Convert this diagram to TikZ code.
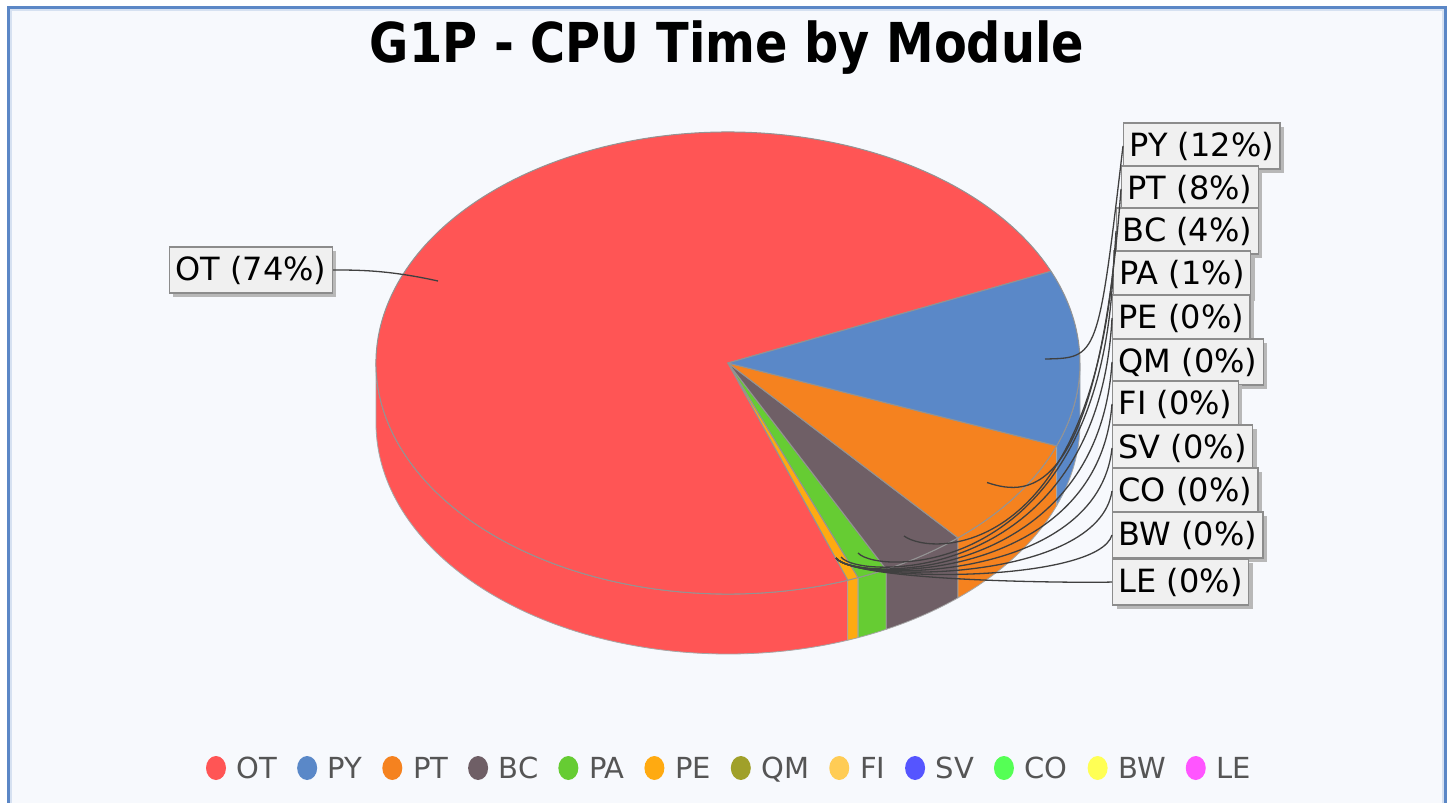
\documentclass[tikz,border=0pt]{standalone}
\usepackage{fontspec}
\setmainfont{DejaVu Sans}
\usetikzlibrary{positioning,shapes.geometric,shadows}

\definecolor{frameblue}{HTML}{5B87C6}
\definecolor{chartbg}{HTML}{F7F9FD}
\definecolor{colOT}{HTML}{FF5555}
\definecolor{colPY}{HTML}{5A88C8}
\definecolor{colPT}{HTML}{F5821F}
\definecolor{colBC}{HTML}{6F5F66}
\definecolor{colPA}{HTML}{66CC33}
\definecolor{colPE}{HTML}{FFAA11}
\definecolor{colQM}{HTML}{A0A02A}
\definecolor{colFI}{HTML}{FFCC55}
\definecolor{colSV}{HTML}{5555FF}
\definecolor{colCO}{HTML}{55FF55}
\definecolor{colBW}{HTML}{FFFF55}
\definecolor{colLE}{HTML}{FF55FF}
\definecolor{lblfill}{HTML}{F0F0F0}
\definecolor{legtext}{HTML}{555555}

\newcommand\lblfont{\fontsize{16pt}{18pt}\selectfont}
\newcommand\legfont{\fontsize{14.5pt}{16pt}\selectfont}
\newcommand\ttlfont{\fontsize{27.5pt}{30pt}\selectfont\bfseries}

\begin{document}
\begin{tikzpicture}[x=0.5pt,y=0.5pt,
  slice/.style={draw=gray!85, line width=0.5pt, line join=round},
  sideface/.style={draw=gray!70, line width=0.4pt, line join=round},
  lbl/.style={draw=gray!90, fill=lblfill, font=\lblfont, text=black, line width=0.6pt,
    inner xsep=3pt, inner ysep=0pt, minimum height=23pt, anchor=west,
    drop shadow={shadow xshift=2pt, shadow yshift=-2pt, fill=black!28, opacity=1}},
  link/.style={draw=black!75, line width=0.65pt},
  dot/.style={ellipse, minimum width=10pt, minimum height=12pt, inner sep=0pt},
  legtxt/.style={font=\legfont, text=legtext, inner sep=0pt, text height=10.5pt, text depth=0pt}]

	\useasboundingbox (0,0) rectangle (1448,-803);
	\fill[white] (0,0) rectangle (1448,-803);
	\filldraw[fill=chartbg, draw=frameblue, line width=1.5pt] (8.5,-7.5) rectangle (1445.5,-830);
	\draw[frameblue!25, line width=1pt] (11,-10) rectangle (1443,-830);

	\node[font=\ttlfont, anchor=base] (title) at (727,-62) {\scalebox{0.87}[1]{G1P - CPU Time by Module}};

	% pie
	\coordinate (c) at (728,-363);
	\foreach \a/\b/\col in {180/289.9/colOT, 289.9/291.7/colPE, 291.7/296.7/colPA, 296.7/310.8/colBC, 310.8/339/colPT, 339/360/colPY}
		\filldraw[sideface, fill=\col] (c) ++(\a:352 and 231) arc[start angle=\a, end angle=\b, x radius=352, y radius=231] -- ++(0,-60) arc[start angle=\b, end angle=\a, x radius=352, y radius=231] -- cycle;
	\foreach \a/\b/\col in {23.4/289.9/colOT, 289.9/291.7/colPE, 291.7/296.7/colPA, 296.7/310.8/colBC, 310.8/339/colPT, 339/383.4/colPY}
		\filldraw[slice, fill=\col] (c) -- ++(\a:352 and 231) arc[start angle=\a, end angle=\b, x radius=352, y radius=231] -- cycle;

	% labels
	\node[lbl, anchor=east] (OT) at (333,-270) {OT (74\%)};
	\node[lbl] (PY) at (1123,-146) {PY (12\%)};
	\node[lbl] (PT) at (1121,-189) {PT (8\%)};
	\node[lbl] (BC) at (1116,-231) {BC (4\%)};
	\node[lbl] (PA) at (1113,-274) {PA (1\%)};
	\node[lbl] (PE) at (1112,-318) {PE (0\%)};
	\node[lbl] (QM) at (1112,-362) {QM (0\%)};
	\node[lbl] (FI) at (1112,-404) {FI (0\%)};
	\node[lbl] (SV) at (1112,-448) {SV (0\%)};
	\node[lbl] (CO) at (1112,-491) {CO (0\%)};
	\node[lbl] (BW) at (1112,-535) {BW (0\%)};
	\node[lbl] (LE) at (1112,-582) {LE (0\%)};

	% link points on the slices
	\coordinate (OTk) at (438,-281);
	\coordinate (PYk) at (1045,-359);
	\coordinate (PTk) at (987,-482.5);
	\coordinate (BCk) at (904,-536);
	\coordinate (PAk) at (858,-553);
	\coordinate (PEk) at (841,-557);
	\coordinate (zk) at (836,-558);

	\draw[link] (OTk) .. controls (388.5,-270) and (358,-270) .. (OT.east);
	\draw[link] (PYk) .. controls (1098,-358) and (1098,-358) .. (PY.west);
	\draw[link] (PTk) .. controls (1031,-497.5) and (1098,-497.5) .. (PT.west);
	\draw[link] (BCk) .. controls (933.6,-557.6) and (1098,-557.6) .. (BC.west);
	\draw[link] (PAk) .. controls (879.7,-576.4) and (1098,-576.4) .. (PA.west);
	\draw[link] (PEk) .. controls (860,-581.6) and (1098,-581.6) .. (PE.west);
	\foreach \n in {QM,FI,SV,CO,BW,LE}
		\draw[link] (zk) .. controls (854.6,-582.9) and (1098,-582.9) .. (\n.west);

	% legend
	\node[dot, fill=colOT] (dOT) at (216,-768) {};
	\node[legtxt, right=5pt of dOT] (tOT) {OT};
	\node[dot, fill=colPY, right=9.5pt of tOT] (dPY) {};
	\node[legtxt, right=5pt of dPY] (tPY) {PY};
	\node[dot, fill=colPT, right=9.5pt of tPY] (dPT) {};
	\node[legtxt, right=5pt of dPT] (tPT) {PT};
	\node[dot, fill=colBC, right=9.5pt of tPT] (dBC) {};
	\node[legtxt, right=5pt of dBC] (tBC) {BC};
	\node[dot, fill=colPA, right=9.5pt of tBC] (dPA) {};
	\node[legtxt, right=5pt of dPA] (tPA) {PA};
	\node[dot, fill=colPE, right=9.5pt of tPA] (dPE) {};
	\node[legtxt, right=5pt of dPE] (tPE) {PE};
	\node[dot, fill=colQM, right=9.5pt of tPE] (dQM) {};
	\node[legtxt, right=5pt of dQM] (tQM) {QM};
	\node[dot, fill=colFI, right=9.5pt of tQM] (dFI) {};
	\node[legtxt, right=5pt of dFI] (tFI) {FI};
	\node[dot, fill=colSV, right=9.5pt of tFI] (dSV) {};
	\node[legtxt, right=5pt of dSV] (tSV) {SV};
	\node[dot, fill=colCO, right=9.5pt of tSV] (dCO) {};
	\node[legtxt, right=5pt of dCO] (tCO) {CO};
	\node[dot, fill=colBW, right=9.5pt of tCO] (dBW) {};
	\node[legtxt, right=5pt of dBW] (tBW) {BW};
	\node[dot, fill=colLE, right=9.5pt of tBW] (dLE) {};
	\node[legtxt, right=5pt of dLE] (tLE) {LE};
\end{tikzpicture}
\end{document}
